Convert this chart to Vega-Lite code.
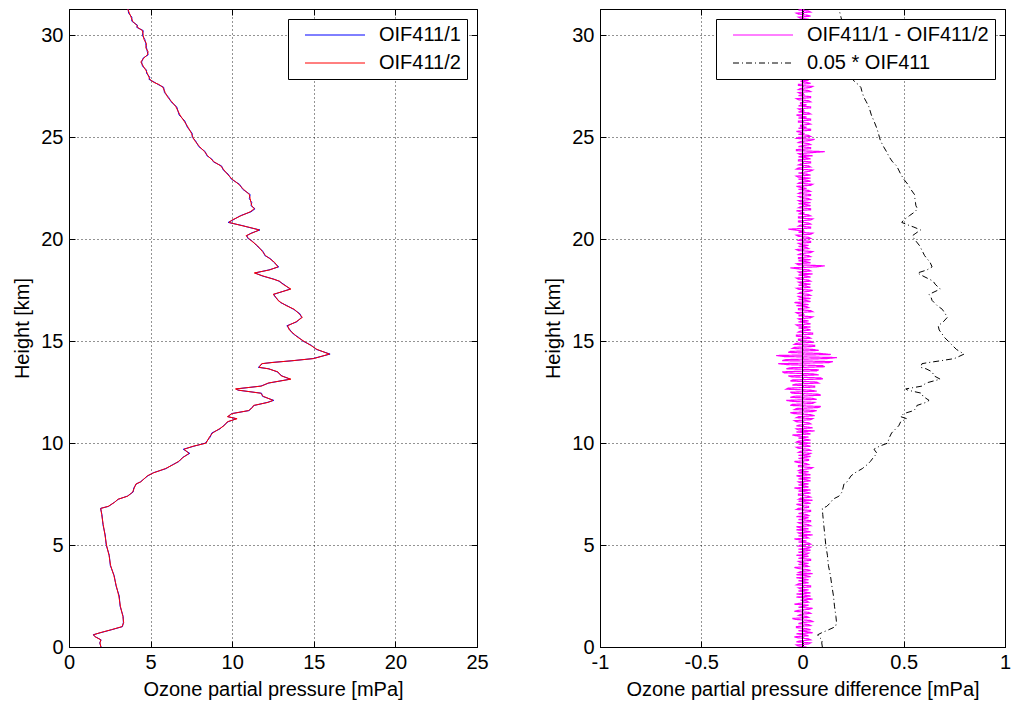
{
"$schema":"https://vega.github.io/schema/vega-lite/v6.json",
"padding":{"left":12,"top":8,"right":0,"bottom":0},
"spacing":54,
"config":{
 "font":"Liberation Sans",
 "view":{"stroke":"black","strokeWidth":1},
 "axis":{"labelFont":"Liberation Sans","labelFontSize":20,"labelColor":"black","labelFlush":false,"titleFont":"Liberation Sans","titleFontSize":20,"titleFontWeight":"normal","titleColor":"black","domainColor":"black","tickColor":"black","tickSize":-6,"gridColor":"black","gridDash":[1,3],"gridOpacity":0.85,"labelPadding":8,"titlePadding":8},
 "axisX":{"labelPadding":11,"titlePadding":7},
 "axisY":{"labelPadding":12,"titlePadding":8},
 "legend":{"orient":"top-right","offset":10,"fillColor":"white","strokeColor":"black","padding":6,"rowPadding":8,"labelFont":"Liberation Sans","labelFontSize":20,"labelColor":"black","symbolType":"M-6,0H6","symbolSize":100,"symbolOffset":31,"symbolStrokeWidth":1,"labelLimit":0,"title":null,"labelOffset":34}
},
"datasets":{
"prof":[
{"h":0.0,"b":1.97,"r":1.95,"s":0.098},{"h":0.2,"b":1.88,"r":1.9,"s":0.095},{"h":0.35,"b":1.97,"r":1.95,"s":0.098},{"h":0.5,"b":1.62,"r":1.6,"s":0.08},{"h":0.6,"b":1.48,"r":1.5,"s":0.075},{"h":0.7,"b":1.93,"r":1.9,"s":0.095},{"h":0.85,"b":2.62,"r":2.6,"s":0.13},{"h":1.0,"b":3.28,"r":3.25,"s":0.163},{"h":1.2,"b":3.33,"r":3.35,"s":0.168},{"h":1.5,"b":3.32,"r":3.3,"s":0.165},{"h":2.0,"b":3.13,"r":3.15,"s":0.158},{"h":2.5,"b":3.08,"r":3.05,"s":0.153},{"h":3.0,"b":2.88,"r":2.9,"s":0.145},{"h":3.5,"b":2.77,"r":2.75,"s":0.138},{"h":4.0,"b":2.53,"r":2.55,"s":0.128},{"h":4.5,"b":2.47,"r":2.45,"s":0.123},{"h":5.0,"b":2.28,"r":2.3,"s":0.115},{"h":5.5,"b":2.22,"r":2.2,"s":0.11},{"h":6.0,"b":2.08,"r":2.1,"s":0.105},{"h":6.5,"b":2.02,"r":2.0,"s":0.1},{"h":6.8,"b":1.93,"r":1.95,"s":0.098},{"h":6.9,"b":2.43,"r":2.4,"s":0.12},{"h":7.1,"b":2.78,"r":2.8,"s":0.14},{"h":7.25,"b":3.03,"r":3.0,"s":0.15},{"h":7.4,"b":3.57,"r":3.6,"s":0.18},{"h":7.6,"b":3.93,"r":3.9,"s":0.195},{"h":7.8,"b":3.97,"r":4.0,"s":0.2},{"h":8.0,"b":4.13,"r":4.1,"s":0.205},{"h":8.1,"b":4.37,"r":4.4,"s":0.22},{"h":8.4,"b":4.84,"r":4.8,"s":0.24},{"h":8.55,"b":5.17,"r":5.2,"s":0.26},{"h":8.75,"b":5.94,"r":5.9,"s":0.295},{"h":8.95,"b":6.36,"r":6.4,"s":0.32},{"h":9.1,"b":6.74,"r":6.7,"s":0.335},{"h":9.3,"b":6.96,"r":7.0,"s":0.35},{"h":9.5,"b":7.4,"r":7.35,"s":0.368},{"h":9.7,"b":7.0,"r":7.05,"s":0.353},{"h":9.85,"b":7.65,"r":7.6,"s":0.38},{"h":10.0,"b":8.35,"r":8.4,"s":0.42},{"h":10.3,"b":8.65,"r":8.6,"s":0.43},{"h":10.5,"b":8.75,"r":8.8,"s":0.44},{"h":10.7,"b":9.25,"r":9.2,"s":0.46},{"h":10.85,"b":9.45,"r":9.5,"s":0.475},{"h":11.05,"b":9.75,"r":9.7,"s":0.485},{"h":11.2,"b":10.25,"r":10.3,"s":0.515},{"h":11.3,"b":9.75,"r":9.7,"s":0.485},{"h":11.45,"b":9.95,"r":10.0,"s":0.5},{"h":11.6,"b":11.05,"r":11.0,"s":0.55},{"h":11.75,"b":11.2,"r":11.25,"s":0.563},{"h":11.85,"b":11.35,"r":11.3,"s":0.565},{"h":12.0,"b":12.15,"r":12.2,"s":0.61},{"h":12.1,"b":12.55,"r":12.5,"s":0.625},{"h":12.3,"b":11.85,"r":11.9,"s":0.595},{"h":12.45,"b":11.8,"r":11.75,"s":0.588},{"h":12.6,"b":10.35,"r":10.4,"s":0.52},{"h":12.66,"b":10.25,"r":10.2,"s":0.51},{"h":12.8,"b":11.75,"r":11.8,"s":0.59},{"h":12.95,"b":12.25,"r":12.2,"s":0.61},{"h":13.14,"b":13.55,"r":13.6,"s":0.68},{"h":13.3,"b":13.05,"r":13.0,"s":0.65},{"h":13.5,"b":12.75,"r":12.8,"s":0.64},{"h":13.65,"b":12.25,"r":12.2,"s":0.61},{"h":13.72,"b":11.6,"r":11.65,"s":0.583},{"h":13.9,"b":11.85,"r":11.8,"s":0.59},{"h":13.96,"b":12.45,"r":12.5,"s":0.625},{"h":14.04,"b":13.65,"r":13.6,"s":0.68},{"h":14.15,"b":14.95,"r":15.0,"s":0.75},{"h":14.37,"b":16.0,"r":15.95,"s":0.798},{"h":14.6,"b":15.15,"r":15.2,"s":0.76},{"h":14.8,"b":14.85,"r":14.8,"s":0.74},{"h":15.0,"b":14.35,"r":14.4,"s":0.72},{"h":15.2,"b":14.05,"r":14.0,"s":0.7},{"h":15.35,"b":13.75,"r":13.8,"s":0.69},{"h":15.55,"b":13.55,"r":13.5,"s":0.675},{"h":15.76,"b":13.35,"r":13.4,"s":0.67},{"h":15.95,"b":13.95,"r":13.9,"s":0.695},{"h":16.17,"b":14.25,"r":14.3,"s":0.715},{"h":16.35,"b":14.15,"r":14.1,"s":0.705},{"h":16.57,"b":13.75,"r":13.8,"s":0.69},{"h":16.75,"b":13.35,"r":13.3,"s":0.665},{"h":16.9,"b":12.95,"r":13.0,"s":0.65},{"h":17.0,"b":12.85,"r":12.8,"s":0.64},{"h":17.15,"b":12.65,"r":12.7,"s":0.635},{"h":17.3,"b":12.55,"r":12.5,"s":0.625},{"h":17.56,"b":13.55,"r":13.6,"s":0.68},{"h":17.8,"b":13.15,"r":13.1,"s":0.655},{"h":17.95,"b":12.85,"r":12.9,"s":0.645},{"h":18.05,"b":12.55,"r":12.5,"s":0.625},{"h":18.2,"b":11.85,"r":11.9,"s":0.595},{"h":18.35,"b":11.4,"r":11.35,"s":0.568},{"h":18.5,"b":12.25,"r":12.3,"s":0.615},{"h":18.65,"b":12.85,"r":12.8,"s":0.64},{"h":18.87,"b":12.55,"r":12.6,"s":0.63},{"h":19.05,"b":12.35,"r":12.3,"s":0.615},{"h":19.2,"b":12.0,"r":12.05,"s":0.603},{"h":19.4,"b":11.9,"r":11.85,"s":0.593},{"h":19.69,"b":11.5,"r":11.55,"s":0.578},{"h":19.94,"b":11.2,"r":11.15,"s":0.558},{"h":20.05,"b":10.95,"r":11.0,"s":0.55},{"h":20.18,"b":10.9,"r":10.85,"s":0.543},{"h":20.3,"b":11.15,"r":11.2,"s":0.56},{"h":20.46,"b":11.7,"r":11.65,"s":0.583},{"h":20.6,"b":10.95,"r":11.0,"s":0.55},{"h":20.67,"b":10.65,"r":10.6,"s":0.53},{"h":20.83,"b":9.75,"r":9.8,"s":0.49},{"h":20.95,"b":10.05,"r":10.0,"s":0.5},{"h":21.16,"b":10.5,"r":10.55,"s":0.528},{"h":21.35,"b":11.15,"r":11.1,"s":0.555},{"h":21.5,"b":11.4,"r":11.35,"s":0.568},{"h":21.65,"b":11.15,"r":11.2,"s":0.56},{"h":21.8,"b":11.2,"r":11.15,"s":0.558},{"h":22.0,"b":11.05,"r":11.1,"s":0.555},{"h":22.2,"b":11.1,"r":11.05,"s":0.553},{"h":22.45,"b":10.65,"r":10.7,"s":0.535},{"h":22.7,"b":10.45,"r":10.4,"s":0.52},{"h":22.95,"b":9.95,"r":10.0,"s":0.5},{"h":23.2,"b":9.75,"r":9.7,"s":0.485},{"h":23.4,"b":9.45,"r":9.5,"s":0.475},{"h":23.6,"b":9.35,"r":9.3,"s":0.465},{"h":23.8,"b":8.85,"r":8.9,"s":0.445},{"h":23.94,"b":8.75,"r":8.7,"s":0.435},{"h":24.1,"b":8.45,"r":8.5,"s":0.425},{"h":24.3,"b":8.35,"r":8.3,"s":0.415},{"h":24.55,"b":7.95,"r":8.0,"s":0.4},{"h":24.84,"b":7.75,"r":7.7,"s":0.385},{"h":25.0,"b":7.55,"r":7.6,"s":0.38},{"h":25.2,"b":7.55,"r":7.5,"s":0.375},{"h":25.5,"b":7.25,"r":7.3,"s":0.365},{"h":25.8,"b":7.1,"r":7.05,"s":0.353},{"h":26.1,"b":6.75,"r":6.8,"s":0.34},{"h":26.5,"b":6.6,"r":6.55,"s":0.328},{"h":26.75,"b":6.25,"r":6.3,"s":0.315},{"h":26.97,"b":6.1,"r":6.05,"s":0.303},{"h":27.2,"b":5.85,"r":5.9,"s":0.295},{"h":27.46,"b":5.8,"r":5.75,"s":0.288},{"h":27.6,"b":5.45,"r":5.5,"s":0.275},{"h":27.7,"b":5.25,"r":5.2,"s":0.26},{"h":27.85,"b":4.9,"r":4.95,"s":0.248},{"h":27.95,"b":4.95,"r":4.9,"s":0.245},{"h":28.15,"b":4.75,"r":4.8,"s":0.24},{"h":28.3,"b":4.75,"r":4.7,"s":0.235},{"h":28.5,"b":4.5,"r":4.55,"s":0.228},{"h":28.7,"b":4.45,"r":4.4,"s":0.22},{"h":28.9,"b":4.55,"r":4.6,"s":0.23},{"h":29.05,"b":4.85,"r":4.8,"s":0.24},{"h":29.2,"b":4.8,"r":4.85,"s":0.243},{"h":29.4,"b":4.75,"r":4.7,"s":0.235},{"h":29.6,"b":4.7,"r":4.75,"s":0.238},{"h":29.8,"b":4.65,"r":4.6,"s":0.23},{"h":30.0,"b":4.5,"r":4.55,"s":0.228},{"h":30.24,"b":4.55,"r":4.5,"s":0.225},{"h":30.4,"b":4.15,"r":4.2,"s":0.21},{"h":30.5,"b":4.2,"r":4.15,"s":0.208},{"h":30.7,"b":3.85,"r":3.9,"s":0.195},{"h":30.9,"b":3.85,"r":3.8,"s":0.19},{"h":31.1,"b":3.65,"r":3.7,"s":0.185},{"h":31.3,"b":3.62,"r":3.6,"s":0.18}
],
"diff":[
{"h":0.0,"d":0.02},{"h":0.1,"d":-0.03},{"h":0.2,"d":0.04},{"h":0.3,"d":-0.01},{"h":0.4,"d":0.03},{"h":0.5,"d":-0.04},{"h":0.6,"d":0.01},{"h":0.7,"d":0.05},{"h":0.8,"d":-0.02},{"h":0.9,"d":0.02},
{"h":1.0,"d":-0.03},{"h":1.1,"d":0.03},{"h":1.2,"d":0.0},{"h":1.3,"d":0.04},{"h":1.4,"d":-0.05},{"h":1.5,"d":0.02},{"h":1.6,"d":-0.01},{"h":1.7,"d":0.03},{"h":1.8,"d":-0.02},{"h":1.9,"d":0.05},
{"h":2.0,"d":0.01},{"h":2.1,"d":-0.04},{"h":2.2,"d":0.03},{"h":2.3,"d":-0.01},{"h":2.4,"d":0.02},{"h":2.5,"d":0.04},{"h":2.6,"d":-0.03},{"h":2.7,"d":0.01},{"h":2.8,"d":0.03},{"h":2.9,"d":-0.02},
{"h":3.0,"d":0.04},{"h":3.1,"d":-0.02},{"h":3.2,"d":0.01},{"h":3.3,"d":0.03},{"h":3.4,"d":-0.03},{"h":3.5,"d":0.02},{"h":3.6,"d":0.05},{"h":3.7,"d":-0.01},{"h":3.8,"d":0.02},{"h":3.9,"d":-0.04},
{"h":4.0,"d":0.02},{"h":4.1,"d":0.03},{"h":4.2,"d":-0.02},{"h":4.3,"d":0.04},{"h":4.4,"d":0.0},{"h":4.5,"d":-0.03},{"h":4.6,"d":0.03},{"h":4.7,"d":0.01},{"h":4.8,"d":-0.02},{"h":4.9,"d":0.04},
{"h":5.0,"d":-0.01},{"h":5.1,"d":0.03},{"h":5.2,"d":0.02},{"h":5.3,"d":-0.04},{"h":5.4,"d":0.02},{"h":5.5,"d":0.05},{"h":5.6,"d":-0.02},{"h":5.7,"d":0.01},{"h":5.8,"d":0.03},{"h":5.9,"d":-0.03},
{"h":6.0,"d":0.03},{"h":6.1,"d":-0.02},{"h":6.2,"d":0.04},{"h":6.3,"d":0.01},{"h":6.4,"d":-0.03},{"h":6.5,"d":0.02},{"h":6.6,"d":0.0},{"h":6.7,"d":0.04},{"h":6.8,"d":-0.02},{"h":6.9,"d":0.03},
{"h":7.0,"d":-0.03},{"h":7.1,"d":0.02},{"h":7.2,"d":0.05},{"h":7.3,"d":-0.01},{"h":7.4,"d":0.03},{"h":7.5,"d":-0.02},{"h":7.6,"d":0.02},{"h":7.7,"d":0.04},{"h":7.8,"d":-0.04},{"h":7.9,"d":0.01},
{"h":8.0,"d":0.03},{"h":8.1,"d":-0.02},{"h":8.2,"d":0.02},{"h":8.3,"d":0.04},{"h":8.4,"d":-0.03},{"h":8.5,"d":0.01},{"h":8.6,"d":0.03},{"h":8.7,"d":-0.01},{"h":8.8,"d":0.05},{"h":8.9,"d":-0.02},
{"h":9.0,"d":0.02},{"h":9.1,"d":-0.04},{"h":9.2,"d":0.03},{"h":9.3,"d":0.01},{"h":9.4,"d":-0.02},{"h":9.5,"d":0.04},{"h":9.6,"d":-0.01},{"h":9.7,"d":0.03},{"h":9.8,"d":-0.03},{"h":9.9,"d":0.02},
{"h":10.0,"d":0.04},{"h":10.1,"d":-0.02},{"h":10.2,"d":0.01},{"h":10.3,"d":0.03},{"h":10.4,"d":-0.05},{"h":10.5,"d":0.02},{"h":10.6,"d":0.06},{"h":10.7,"d":-0.03},{"h":10.8,"d":0.02},{"h":10.9,"d":-0.01},
{"h":11.0,"d":0.03},{"h":11.1,"d":-0.04},{"h":11.2,"d":0.05},{"h":11.3,"d":-0.02},{"h":11.4,"d":0.04},{"h":11.5,"d":-0.06},{"h":11.6,"d":0.07},{"h":11.7,"d":-0.03},{"h":11.8,"d":0.09},{"h":11.9,"d":-0.05},
{"h":12.0,"d":0.06},{"h":12.1,"d":-0.08},{"h":12.2,"d":0.05},{"h":12.3,"d":-0.04},{"h":12.4,"d":0.08},{"h":12.5,"d":-0.06},{"h":12.6,"d":0.04},{"h":12.7,"d":-0.07},{"h":12.8,"d":0.06},{"h":12.9,"d":-0.03},
{"h":13.0,"d":0.07},{"h":13.1,"d":-0.05},{"h":13.2,"d":0.09},{"h":13.3,"d":-0.07},{"h":13.4,"d":0.05},{"h":13.5,"d":-0.1},{"h":13.6,"d":0.08},{"h":13.7,"d":-0.06},{"h":13.8,"d":0.1},{"h":13.9,"d":-0.12},
{"h":14.0,"d":0.15},{"h":14.1,"d":-0.08},{"h":14.2,"d":0.17},{"h":14.3,"d":-0.13},{"h":14.4,"d":0.09},{"h":14.5,"d":-0.06},{"h":14.6,"d":0.05},{"h":14.7,"d":-0.04},{"h":14.8,"d":0.06},{"h":14.9,"d":-0.03},
{"h":15.0,"d":0.04},{"h":15.1,"d":-0.02},{"h":15.2,"d":0.03},{"h":15.3,"d":-0.03},{"h":15.4,"d":0.05},{"h":15.5,"d":-0.01},{"h":15.6,"d":0.02},{"h":15.7,"d":0.04},{"h":15.8,"d":-0.03},{"h":15.9,"d":0.02},
{"h":16.0,"d":0.03},{"h":16.1,"d":-0.02},{"h":16.2,"d":0.05},{"h":16.3,"d":0.01},{"h":16.4,"d":-0.03},{"h":16.5,"d":0.04},{"h":16.6,"d":-0.02},{"h":16.7,"d":0.02},{"h":16.8,"d":0.03},{"h":16.9,"d":-0.04},
{"h":17.0,"d":0.02},{"h":17.1,"d":0.04},{"h":17.2,"d":-0.02},{"h":17.3,"d":0.03},{"h":17.4,"d":-0.01},{"h":17.5,"d":0.05},{"h":17.6,"d":-0.03},{"h":17.7,"d":0.02},{"h":17.8,"d":0.04},{"h":17.9,"d":-0.02},
{"h":18.0,"d":0.03},{"h":18.1,"d":-0.03},{"h":18.2,"d":0.02},{"h":18.3,"d":0.05},{"h":18.4,"d":-0.02},{"h":18.5,"d":0.03},{"h":18.6,"d":-0.06},{"h":18.7,"d":0.11},{"h":18.8,"d":-0.03},{"h":18.9,"d":0.02},
{"h":19.0,"d":0.04},{"h":19.1,"d":-0.02},{"h":19.2,"d":0.03},{"h":19.3,"d":-0.01},{"h":19.4,"d":0.05},{"h":19.5,"d":-0.03},{"h":19.6,"d":0.02},{"h":19.7,"d":0.03},{"h":19.8,"d":-0.02},{"h":19.9,"d":0.04},
{"h":20.0,"d":-0.01},{"h":20.1,"d":0.03},{"h":20.2,"d":-0.03},{"h":20.3,"d":0.05},{"h":20.4,"d":0.01},{"h":20.5,"d":-0.07},{"h":20.6,"d":0.04},{"h":20.7,"d":-0.01},{"h":20.8,"d":0.03},{"h":20.9,"d":-0.02},
{"h":21.0,"d":0.05},{"h":21.1,"d":-0.02},{"h":21.2,"d":0.03},{"h":21.3,"d":0.01},{"h":21.4,"d":-0.03},{"h":21.5,"d":0.04},{"h":21.6,"d":-0.01},{"h":21.7,"d":0.02},{"h":21.8,"d":0.04},{"h":21.9,"d":-0.02},
{"h":22.0,"d":0.03},{"h":22.1,"d":-0.02},{"h":22.2,"d":0.04},{"h":22.3,"d":-0.01},{"h":22.4,"d":0.03},{"h":22.5,"d":0.02},{"h":22.6,"d":-0.03},{"h":22.7,"d":0.05},{"h":22.8,"d":-0.01},{"h":22.9,"d":0.02},
{"h":23.0,"d":0.04},{"h":23.1,"d":-0.03},{"h":23.2,"d":0.02},{"h":23.3,"d":0.01},{"h":23.4,"d":0.05},{"h":23.5,"d":-0.02},{"h":23.6,"d":0.03},{"h":23.7,"d":-0.01},{"h":23.8,"d":0.04},{"h":23.9,"d":-0.02},
{"h":24.0,"d":0.02},{"h":24.1,"d":0.05},{"h":24.2,"d":-0.02},{"h":24.3,"d":0.11},{"h":24.4,"d":-0.03},{"h":24.5,"d":0.04},{"h":24.6,"d":0.0},{"h":24.7,"d":0.03},{"h":24.8,"d":-0.01},{"h":24.9,"d":0.06},
{"h":25.0,"d":-0.02},{"h":25.1,"d":0.03},{"h":25.2,"d":0.01},{"h":25.3,"d":-0.03},{"h":25.4,"d":0.04},{"h":25.5,"d":0.02},{"h":25.6,"d":-0.01},{"h":25.7,"d":0.03},{"h":25.8,"d":-0.02},{"h":25.9,"d":0.04},
{"h":26.0,"d":0.02},{"h":26.1,"d":-0.03},{"h":26.2,"d":0.03},{"h":26.3,"d":0.01},{"h":26.4,"d":-0.02},{"h":26.5,"d":0.04},{"h":26.6,"d":0.02},{"h":26.7,"d":-0.01},{"h":26.8,"d":0.03},{"h":26.9,"d":-0.03},
{"h":27.0,"d":0.04},{"h":27.1,"d":0.01},{"h":27.2,"d":-0.02},{"h":27.3,"d":0.03},{"h":27.4,"d":-0.01},{"h":27.5,"d":0.05},{"h":27.6,"d":-0.02},{"h":27.7,"d":0.02},{"h":27.8,"d":0.03},{"h":27.9,"d":-0.03},
{"h":28.0,"d":0.02},{"h":28.1,"d":-0.02},{"h":28.2,"d":0.04},{"h":28.3,"d":0.01},{"h":28.4,"d":-0.03},{"h":28.5,"d":0.03},{"h":28.6,"d":0.02},{"h":28.7,"d":-0.02},{"h":28.8,"d":0.04},{"h":28.9,"d":-0.01},
{"h":29.0,"d":0.03},{"h":29.1,"d":-0.03},{"h":29.2,"d":0.02},{"h":29.3,"d":0.04},{"h":29.4,"d":-0.02},{"h":29.5,"d":0.01},{"h":29.6,"d":0.03},{"h":29.7,"d":-0.01},{"h":29.8,"d":0.02},{"h":29.9,"d":-0.03},
{"h":30.0,"d":0.04},{"h":30.1,"d":-0.02},{"h":30.2,"d":0.01},{"h":30.3,"d":0.03},{"h":30.4,"d":-0.03},{"h":30.5,"d":0.05},{"h":30.6,"d":-0.01},{"h":30.7,"d":0.02},{"h":30.8,"d":0.03},{"h":30.9,"d":-0.02},
{"h":31.0,"d":0.02},{"h":31.1,"d":-0.03},{"h":31.2,"d":0.03},{"h":31.3,"d":0.01},
{"h":0.05,"d":-0.02},{"h":0.15,"d":0.03},{"h":0.25,"d":-0.03},{"h":0.35,"d":0.04},{"h":0.45,"d":-0.02},{"h":0.55,"d":0.03},{"h":0.65,"d":-0.03},{"h":0.75,"d":0.02},{"h":0.85,"d":0.04},{"h":0.95,"d":-0.03},
{"h":1.05,"d":0.04},{"h":1.15,"d":-0.02},{"h":1.25,"d":0.05},{"h":1.35,"d":-0.03},{"h":1.45,"d":0.03},{"h":1.55,"d":-0.02},{"h":1.65,"d":0.04},{"h":1.75,"d":-0.04},{"h":1.85,"d":0.03},{"h":1.95,"d":-0.02},
{"h":2.05,"d":0.03},{"h":2.15,"d":-0.01},{"h":2.25,"d":0.02},{"h":2.35,"d":0.05},{"h":2.45,"d":-0.03},{"h":2.55,"d":0.01},{"h":2.65,"d":0.04},{"h":2.75,"d":-0.02},{"h":2.85,"d":-0.01},{"h":2.95,"d":0.04},
{"h":3.05,"d":-0.03},{"h":3.15,"d":0.03},{"h":3.25,"d":-0.02},{"h":3.35,"d":0.0},{"h":3.45,"d":0.04},{"h":3.55,"d":-0.03},{"h":3.65,"d":-0.02},{"h":3.75,"d":0.04},{"h":3.85,"d":-0.02},{"h":3.95,"d":0.03},
{"h":4.05,"d":-0.02},{"h":4.15,"d":-0.01},{"h":4.25,"d":0.04},{"h":4.35,"d":-0.02},{"h":4.45,"d":0.03},{"h":4.55,"d":0.02},{"h":4.65,"d":-0.02},{"h":4.75,"d":0.04},{"h":4.85,"d":0.03},{"h":4.95,"d":-0.02},
{"h":5.05,"d":0.04},{"h":5.15,"d":-0.02},{"h":5.25,"d":-0.01},{"h":5.35,"d":0.03},{"h":5.45,"d":-0.02},{"h":5.55,"d":-0.01},{"h":5.65,"d":0.04},{"h":5.75,"d":-0.03},{"h":5.85,"d":-0.01},{"h":5.95,"d":0.04},
{"h":6.05,"d":-0.01},{"h":6.15,"d":0.04},{"h":6.25,"d":-0.02},{"h":6.35,"d":0.03},{"h":6.45,"d":0.03},{"h":6.55,"d":-0.02},{"h":6.65,"d":0.04},{"h":6.75,"d":-0.03},{"h":6.85,"d":0.03},{"h":6.95,"d":-0.01},
{"h":7.05,"d":0.04},{"h":7.15,"d":-0.02},{"h":7.25,"d":-0.02},{"h":7.35,"d":0.04},{"h":7.45,"d":-0.02},{"h":7.55,"d":0.04},{"h":7.65,"d":-0.02},{"h":7.75,"d":-0.01},{"h":7.85,"d":0.03},{"h":7.95,"d":-0.02},
{"h":8.05,"d":-0.01},{"h":8.15,"d":0.04},{"h":8.25,"d":-0.02},{"h":8.35,"d":-0.01},{"h":8.45,"d":0.04},{"h":8.55,"d":-0.02},{"h":8.65,"d":-0.02},{"h":8.75,"d":0.04},{"h":8.85,"d":-0.02},{"h":8.95,"d":0.03},
{"h":9.05,"d":-0.02},{"h":9.15,"d":0.03},{"h":9.25,"d":-0.02},{"h":9.35,"d":0.04},{"h":9.45,"d":0.03},{"h":9.55,"d":-0.02},{"h":9.65,"d":0.04},{"h":9.75,"d":-0.02},{"h":9.85,"d":0.04},{"h":9.95,"d":-0.02},
{"h":10.05,"d":-0.03},{"h":10.15,"d":0.04},{"h":10.25,"d":-0.02},{"h":10.35,"d":-0.02},{"h":10.45,"d":0.04},{"h":10.55,"d":-0.03},{"h":10.65,"d":-0.02},{"h":10.75,"d":0.05},{"h":10.85,"d":-0.03},{"h":10.95,"d":0.04},
{"h":11.05,"d":-0.03},{"h":11.15,"d":0.04},{"h":11.25,"d":-0.03},{"h":11.35,"d":0.06},{"h":11.45,"d":-0.04},{"h":11.55,"d":0.05},{"h":11.65,"d":-0.04},{"h":11.75,"d":0.08},{"h":11.85,"d":-0.06},{"h":11.95,"d":0.05},
{"h":12.05,"d":-0.05},{"h":12.15,"d":0.07},{"h":12.25,"d":-0.06},{"h":12.35,"d":0.09},{"h":12.45,"d":-0.05},{"h":12.55,"d":0.07},{"h":12.65,"d":-0.08},{"h":12.75,"d":0.06},{"h":12.85,"d":-0.05},{"h":12.95,"d":0.08},
{"h":13.05,"d":-0.06},{"h":13.15,"d":0.1},{"h":13.25,"d":-0.05},{"h":13.35,"d":0.08},{"h":13.45,"d":-0.09},{"h":13.55,"d":0.07},{"h":13.65,"d":-0.08},{"h":13.75,"d":0.11},{"h":13.85,"d":-0.07},{"h":13.95,"d":0.13},
{"h":14.05,"d":-0.1},{"h":14.15,"d":0.12},{"h":14.25,"d":-0.09},{"h":14.35,"d":0.14},{"h":14.45,"d":-0.07},{"h":14.55,"d":0.08},{"h":14.65,"d":-0.05},{"h":14.75,"d":0.06},{"h":14.85,"d":-0.04},{"h":14.95,"d":0.05},
{"h":15.05,"d":-0.02},{"h":15.15,"d":0.04},{"h":15.25,"d":-0.03},{"h":15.35,"d":0.05},{"h":15.45,"d":-0.02},{"h":15.55,"d":0.04},{"h":15.65,"d":-0.02},{"h":15.75,"d":-0.02},{"h":15.85,"d":0.04},{"h":15.95,"d":-0.02},
{"h":16.05,"d":-0.01},{"h":16.15,"d":0.04},{"h":16.25,"d":-0.02},{"h":16.35,"d":-0.02},{"h":16.45,"d":0.05},{"h":16.55,"d":-0.02},{"h":16.65,"d":0.03},{"h":16.75,"d":-0.03},{"h":16.85,"d":-0.01},{"h":16.95,"d":0.04},
{"h":17.05,"d":-0.02},{"h":17.15,"d":-0.01},{"h":17.25,"d":0.04},{"h":17.35,"d":-0.02},{"h":17.45,"d":0.03},{"h":17.55,"d":-0.02},{"h":17.65,"d":0.04},{"h":17.75,"d":-0.02},{"h":17.85,"d":-0.01},{"h":17.95,"d":0.04},
{"h":18.05,"d":-0.02},{"h":18.15,"d":0.04},{"h":18.25,"d":-0.02},{"h":18.35,"d":-0.01},{"h":18.45,"d":0.04},{"h":18.55,"d":-0.02},{"h":18.65,"d":0.07},{"h":18.75,"d":-0.02},{"h":18.85,"d":0.04},{"h":18.95,"d":-0.02},
{"h":19.05,"d":-0.02},{"h":19.15,"d":0.04},{"h":19.25,"d":-0.02},{"h":19.35,"d":0.04},{"h":19.45,"d":-0.02},{"h":19.55,"d":0.03},{"h":19.65,"d":-0.02},{"h":19.75,"d":-0.01},{"h":19.85,"d":0.04},{"h":19.95,"d":-0.02},
{"h":20.05,"d":0.04},{"h":20.15,"d":-0.02},{"h":20.25,"d":0.04},{"h":20.35,"d":-0.02},{"h":20.45,"d":-0.03},{"h":20.55,"d":0.04},{"h":20.65,"d":-0.02},{"h":20.75,"d":0.04},{"h":20.85,"d":-0.02},{"h":20.95,"d":0.04},
{"h":21.05,"d":-0.02},{"h":21.15,"d":0.04},{"h":21.25,"d":-0.02},{"h":21.35,"d":-0.01},{"h":21.45,"d":0.04},{"h":21.55,"d":-0.02},{"h":21.65,"d":0.04},{"h":21.75,"d":-0.02},{"h":21.85,"d":-0.01},{"h":21.95,"d":0.04},
{"h":22.05,"d":-0.01},{"h":22.15,"d":0.04},{"h":22.25,"d":-0.02},{"h":22.35,"d":0.04},{"h":22.45,"d":-0.02},{"h":22.55,"d":-0.01},{"h":22.65,"d":0.04},{"h":22.75,"d":-0.02},{"h":22.85,"d":0.04},{"h":22.95,"d":-0.02},
{"h":23.05,"d":-0.02},{"h":23.15,"d":0.04},{"h":23.25,"d":-0.02},{"h":23.35,"d":0.04},{"h":23.45,"d":-0.03},{"h":23.55,"d":0.04},{"h":23.65,"d":-0.02},{"h":23.75,"d":0.04},{"h":23.85,"d":-0.02},{"h":23.95,"d":0.04},
{"h":24.05,"d":-0.02},{"h":24.15,"d":-0.01},{"h":24.25,"d":0.04},{"h":24.35,"d":-0.03},{"h":24.45,"d":0.04},{"h":24.55,"d":-0.02},{"h":24.65,"d":0.04},{"h":24.75,"d":-0.02},{"h":24.85,"d":0.04},{"h":24.95,"d":-0.03},
{"h":25.05,"d":0.04},{"h":25.15,"d":-0.02},{"h":25.25,"d":-0.01},{"h":25.35,"d":0.04},{"h":25.45,"d":-0.02},{"h":25.55,"d":-0.01},{"h":25.65,"d":0.04},{"h":25.75,"d":-0.02},{"h":25.85,"d":0.04},{"h":25.95,"d":-0.02},
{"h":26.05,"d":-0.01},{"h":26.15,"d":0.04},{"h":26.25,"d":-0.02},{"h":26.35,"d":-0.01},{"h":26.45,"d":0.04},{"h":26.55,"d":-0.02},{"h":26.65,"d":-0.01},{"h":26.75,"d":0.04},{"h":26.85,"d":-0.02},{"h":26.95,"d":0.04},
{"h":27.05,"d":-0.02},{"h":27.15,"d":-0.01},{"h":27.25,"d":0.04},{"h":27.35,"d":-0.02},{"h":27.45,"d":0.04},{"h":27.55,"d":-0.02},{"h":27.65,"d":0.04},{"h":27.75,"d":-0.01},{"h":27.85,"d":-0.02},{"h":27.95,"d":0.04},
{"h":28.05,"d":-0.01},{"h":28.15,"d":0.04},{"h":28.25,"d":-0.02},{"h":28.35,"d":-0.02},{"h":28.45,"d":0.04},{"h":28.55,"d":-0.01},{"h":28.65,"d":-0.01},{"h":28.75,"d":0.04},{"h":28.85,"d":-0.02},{"h":28.95,"d":0.04},
{"h":29.05,"d":-0.02},{"h":29.15,"d":0.04},{"h":29.25,"d":-0.01},{"h":29.35,"d":-0.02},{"h":29.45,"d":0.04},{"h":29.55,"d":-0.02},{"h":29.65,"d":-0.01},{"h":29.75,"d":0.04},{"h":29.85,"d":-0.02},{"h":29.95,"d":0.04},
{"h":30.05,"d":-0.02},{"h":30.15,"d":0.04},{"h":30.25,"d":-0.02},{"h":30.35,"d":-0.02},{"h":30.45,"d":0.04},{"h":30.55,"d":-0.02},{"h":30.65,"d":0.04},{"h":30.75,"d":-0.02},{"h":30.85,"d":-0.01},{"h":30.95,"d":0.04},
{"h":31.05,"d":-0.02},{"h":31.15,"d":0.04},{"h":31.25,"d":-0.02}
]
},
"hconcat":[
{
 "width":408,"height":638,
 "resolve":{"axis":{"x":"independent","y":"independent"}},
 "layer":[
  {"data":{"name":"prof"},"mark":{"type":"line","strokeWidth":1,"clip":true},
   "encoding":{
    "x":{"field":"b","type":"quantitative","scale":{"domain":[0,25],"nice":false,"zero":false},"axis":{"title":"Ozone partial pressure [mPa]","values":[0,5,10,15,20,25],"grid":true}},
    "y":{"field":"h","type":"quantitative","scale":{"domain":[0,31.3],"nice":false,"zero":false},"axis":{"title":"Height [km]","values":[0,5,10,15,20,25,30],"grid":true}},
    "order":{"field":"h"},
    "color":{"datum":"OIF411/1","scale":{"domain":["OIF411/1","OIF411/2"],"range":["#0000ff","#ff0000"]}}
   }},
  {"data":{"name":"prof"},"mark":{"type":"line","strokeWidth":1,"clip":true},
   "encoding":{
    "x":{"field":"r","type":"quantitative","axis":{"orient":"top","title":null,"labels":false,"grid":false,"domain":false,"values":[0,5,10,15,20,25]}},
    "y":{"field":"h","type":"quantitative","axis":{"orient":"right","title":null,"labels":false,"grid":false,"domain":false,"values":[0,5,10,15,20,25,30]}},
    "order":{"field":"h"},
    "color":{"datum":"OIF411/2"}
   }}
 ]
},
{
 "width":405,"height":638,
 "resolve":{"axis":{"x":"independent","y":"independent"}},
 "layer":[
  {"data":{"name":"diff"},"mark":{"type":"line","strokeWidth":1.2,"clip":true},
   "encoding":{
    "x":{"field":"d","type":"quantitative","scale":{"domain":[-1,1],"nice":false,"zero":false},"axis":{"title":"Ozone partial pressure difference [mPa]","values":[-1,-0.5,0,0.5,1],"labelExpr":"'' + datum.value","grid":true}},
    "y":{"field":"h","type":"quantitative","scale":{"domain":[0,31.3],"nice":false,"zero":false},"axis":{"title":"Height [km]","values":[0,5,10,15,20,25,30],"grid":true}},
    "order":{"field":"h"},
    "color":{"datum":"OIF411/1 - OIF411/2","scale":{"domain":["OIF411/1 - OIF411/2","0.05 * OIF411"],"range":["#ff00ff","#000000"]}},
    "strokeDash":{"datum":"OIF411/1 - OIF411/2","scale":{"domain":["OIF411/1 - OIF411/2","0.05 * OIF411"],"range":[[1,0],[6,3,1,3]]}}
   }},
  {"data":{"name":"prof"},"mark":{"type":"line","strokeWidth":1,"clip":true},
   "encoding":{
    "x":{"field":"s","type":"quantitative","axis":{"orient":"top","title":null,"labels":false,"grid":false,"domain":false,"values":[-1,-0.5,0,0.5,1]}},
    "y":{"field":"h","type":"quantitative","axis":{"orient":"right","title":null,"labels":false,"grid":false,"domain":false,"values":[0,5,10,15,20,25,30]}},
    "order":{"field":"h"},
    "color":{"datum":"0.05 * OIF411"},
    "strokeDash":{"datum":"0.05 * OIF411"}
   }},
  {"data":{"values":[{"z":0}]},"mark":{"type":"rule","color":"black","strokeWidth":1},
   "encoding":{"x":{"field":"z","type":"quantitative","axis":null}}}
 ]
}
],
"resolve":{"scale":{"color":"independent","strokeDash":"independent"},"legend":{"color":"independent","strokeDash":"independent"}}
}
